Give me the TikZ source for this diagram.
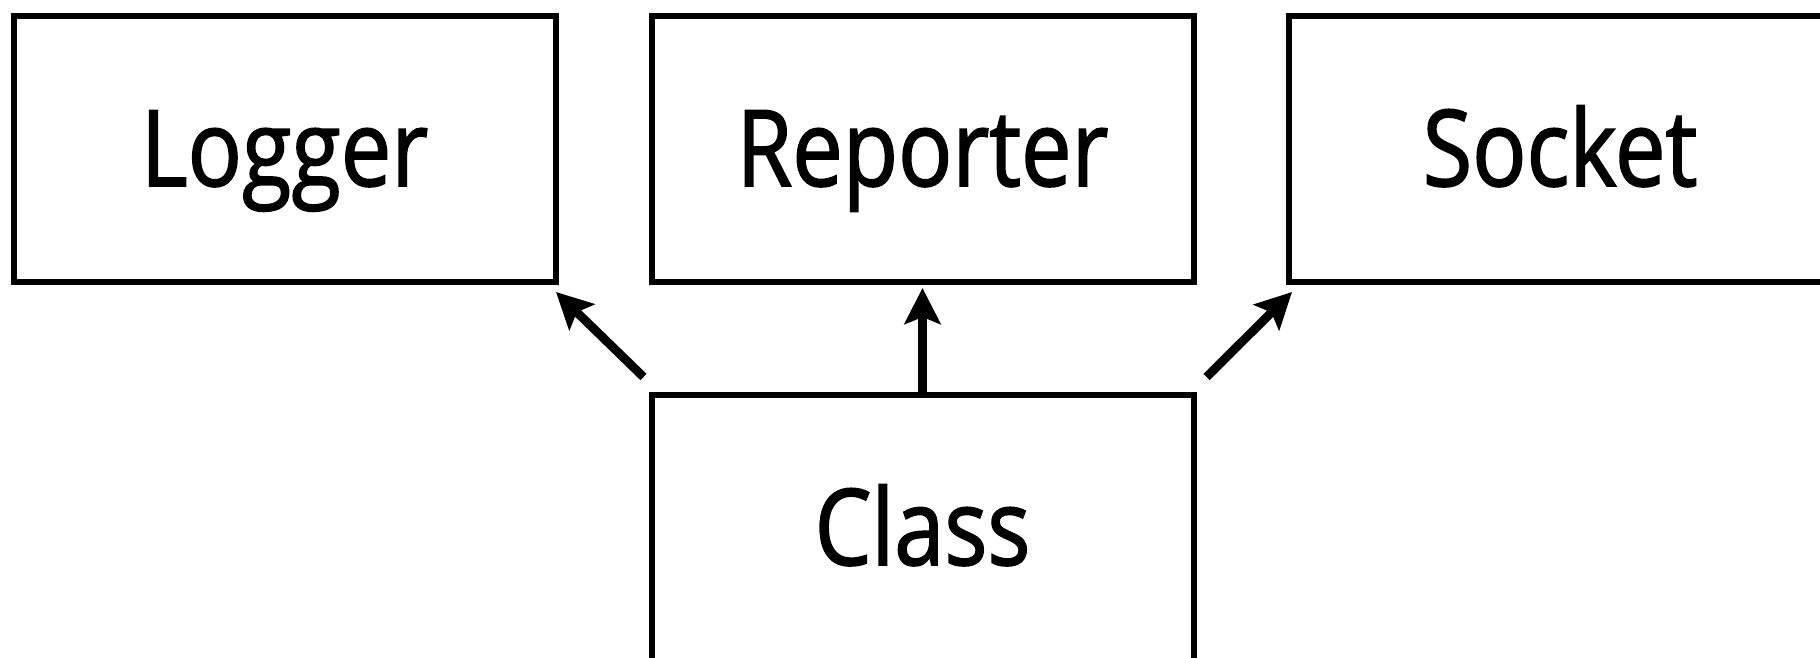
\documentclass[tikz,border=0pt]{standalone}
\usepackage{fontspec}
\setmainfont{Open Sans}[FakeStretch=0.85,FakeBold=1.5]
\usetikzlibrary{arrows.meta,calc}
\tikzset{
  cbox/.style={draw=black, line width=3pt, rectangle, outer sep=0pt, inner sep=0pt,
    minimum width=271pt, minimum height=133pt,
    font=\fontsize{53pt}{58pt}\selectfont, text height=37pt, text depth=0pt},
  conn/.style={line width=4.4pt, -{Stealth[length=18pt,width=18pt,inset=3.5pt]}}
}
\begin{document}
\begin{tikzpicture}[x=0.5pt,y=-0.5pt]
\clip (0,0) rectangle (1820,658);
\fill[white] (0,0) rectangle (1820,658);
\node[cbox] (log) at (284.5,149) {Logger};
\node[cbox] (rep) at (922.5,149) {Reporter};
\node[cbox] (soc) at (1560,149) {Socket};
\node[cbox] (cls) at (922.5,528) {Class};
\coordinate (lt) at ($(cls.north west)+(-8,-18)$);
\coordinate (lh) at ($(log.south east)+(0.5,10)$);
\coordinate (mh) at ($(rep.south)+(0,6)$);
\coordinate (rt) at ($(cls.north east)+(13,-18)$);
\coordinate (rh) at ($(soc.south west)+(3,10)$);
\draw[conn] (lt) -- (lh);
\draw[conn] (cls.north) -- (mh);
\draw[conn] (rt) -- (rh);
\end{tikzpicture}
\end{document}
